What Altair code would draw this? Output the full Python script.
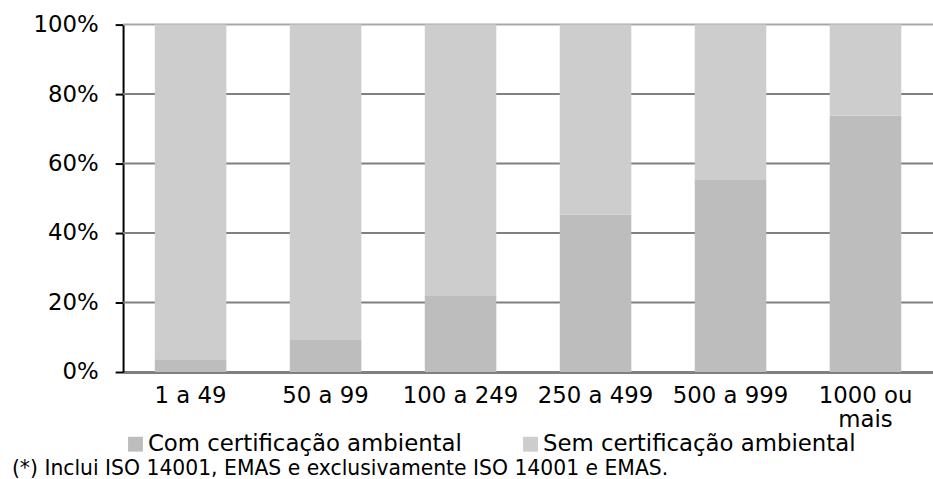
import altair as alt
import pandas as pd

# Company size classes (number of employees)
categories = ["1 a 49", "50 a 99", "100 a 249", "250 a 499", "500 a 999", "1000 ou mais"]
# Share of companies with an environmental certification (%)
com_cert = [3.7, 9.4, 21.9, 45.3, 55.5, 73.8]
# Remaining share without certification (%)
sem_cert = [96.3, 90.6, 78.1, 54.7, 44.5, 26.2]
# Percentage ticks on the vertical axis
y_ticks = [0, 0.2, 0.4, 0.6, 0.8, 1.0]

series_names = ["Com certificação ambiental", "Sem certificação ambiental"]
series_colors = ["#bdbdbd", "#cdcdcd"]
footnote = "(*) Inclui ISO 14001, EMAS e exclusivamente ISO 14001 e EMAS."

rows = []
for cat, c, s in zip(categories, com_cert, sem_cert):
    rows.append({"classe": cat, "serie": series_names[0], "ordem": 0, "valor": c / 100})
    rows.append({"classe": cat, "serie": series_names[1], "ordem": 1, "valor": s / 100})
df = pd.DataFrame(rows)
grid_df = pd.DataFrame({"v": y_ticks[1:]})
note_df = pd.DataFrame({"texto": [footnote]})

FONT = "DejaVu Sans"
y_scale = alt.Scale(domain=[0, 1], nice=False)
y_axis = alt.Axis(
    title=None,
    format="%",
    values=y_ticks,
    grid=False,
    domainColor="#000000",
    domainWidth=2,
    tickColor="#000000",
    tickWidth=2,
    tickSize=8,
    labelFontSize=23,
    labelFont=FONT,
    labelColor="#000000",
    labelPadding=17,
)

# horizontal gridlines drawn behind the bars
grid = (
    alt.Chart(grid_df)
    .mark_rule(strokeWidth=2)
    .encode(
        y=alt.Y("v:Q", scale=y_scale, axis=y_axis),
        color=alt.condition(alt.datum.v >= 1, alt.value("#a8a8a8"), alt.value("#808080")),
    )
)

bars = (
    alt.Chart(df)
    .mark_bar()
    .encode(
        x=alt.X(
            "classe:N",
            sort=categories,
            scale=alt.Scale(paddingInner=0.47, paddingOuter=0.235),
            axis=alt.Axis(
                title=None,
                labelAngle=0,
                ticks=False,
                domainColor="#808080",
                domainWidth=3,
                labelFontSize=23,
                labelFont=FONT,
                labelColor="#000000",
                labelPadding=13,
                labelLineHeight=24,
                labelExpr="datum.value == '1000 ou mais' ? ['1000 ou', 'mais'] : datum.value",
            ),
        ),
        y=alt.Y("valor:Q", stack="zero", scale=y_scale, axis=y_axis),
        color=alt.Color(
            "serie:N",
            scale=alt.Scale(domain=series_names, range=series_colors),
            legend=alt.Legend(
                title=None,
                orient="none",
                direction="horizontal",
                legendX=1,
                legendY=411,
                symbolType="square",
                symbolSize=225,
                symbolStrokeWidth=0,
                symbolOpacity=1,
                labelFontSize=23,
                labelFont=FONT,
                labelColor="#000000",
                labelOffset=1,
                columnPadding=57,
                labelLimit=0,
            ),
        ),
        order=alt.Order("ordem:Q", sort="ascending"),
    )
)

# footnote below the legend
note = (
    alt.Chart(note_df)
    .mark_text(align="left", baseline="alphabetic", fontSize=20.5, font=FONT, color="#000000")
    .encode(text="texto:N", x=alt.value(-112), y=alt.value(454))
)

chart = (
    alt.layer(grid, bars, note)
    .properties(
        width=816,
        height=350,
        autosize=alt.AutoSizeParams(type="none"),
        padding={"left": 124, "top": 23, "right": 0, "bottom": 106},
    )
    .configure_view(stroke=None, clip=False)
)

chart.save("out.html", embed_options={"renderer": "svg", "actions": False})
